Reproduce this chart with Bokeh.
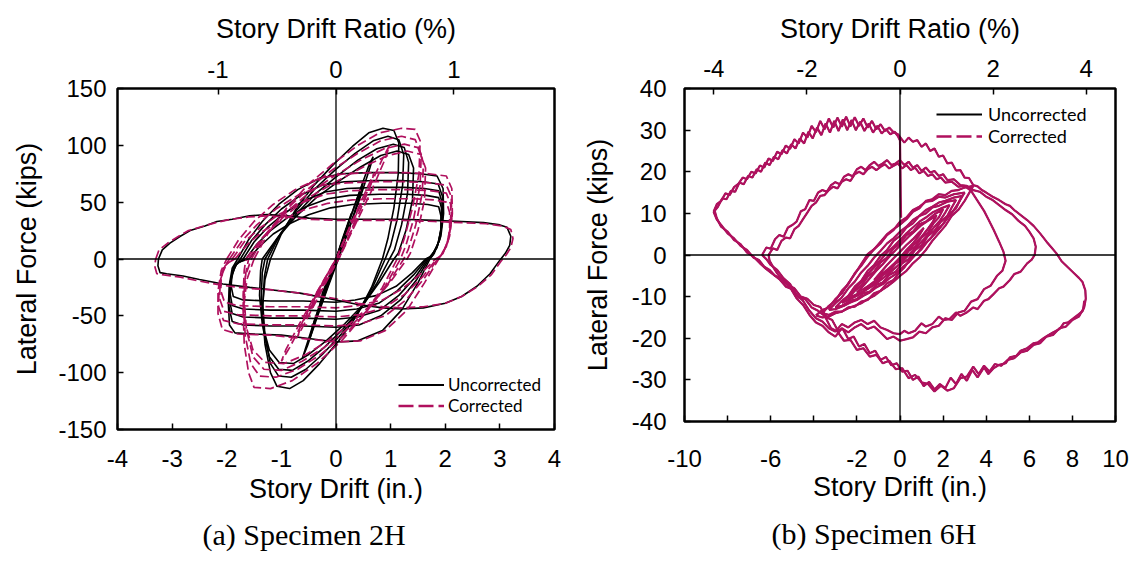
from bokeh.plotting import figure
from bokeh.models import (Range1d, LinearAxis, FixedTicker, Span, Legend,
                          LegendItem, Title)
from bokeh.layouts import row
from bokeh.embed import file_html
from bokeh.resources import INLINE

BLACK = "#000000"
MAGENTA = "#B0105E"
STORY_HEIGHT = 216.0  # in.; drift ratio (%) = drift / height * 100
NAN = float("nan")

# ---------------- tick values and labels ----------------
a_x_ticks = [-4, -3, -2, -1, 0, 1, 2, 3, 4]
a_x_labels = ["-4", "-3", "-2", "-1", "0", "1", "2", "3", "4"]
a_y_ticks = [-150, -100, -50, 0, 50, 100, 150]
a_y_labels = ["-150", "-100", "-50", "0", "50", "100", "150"]
a_pct_ticks = [-1, 0, 1]
a_pct_labels = ["-1", "0", "1"]

b_x_ticks = [-10, -8, -6, -4, -2, 0, 2, 4, 6, 8, 10]
b_x_labels = ["-10", "", "-6", "", "-2", "0", "2", "4", "6", "8", "10"]
b_y_ticks = [-40, -30, -20, -10, 0, 10, 20, 30, 40]
b_y_labels = ["-40", "-30", "-20", "-10", "0", "10", "20", "30", "40"]
b_pct_ticks = [-4, -2, 0, 2, 4]
b_pct_labels = ["-4", "-2", "0", "2", "4"]

# ---------------- Specimen 2H: (drift in., force kips) ----------------
# uncorrected
a_unc_elastic_1 = [(0, 0), (0.2, 28), (0.42, 58), (0.6, 82), (0.68, 90), (0.62, 80), (0.45, 55), (0.25, 28),
                   (0.06, 2), (-0.15, -25), (-0.35, -52), (-0.52, -76), (-0.62, -88), (-0.56, -79),
                   (-0.4, -55), (-0.2, -28), (0, 0)]
a_unc_elastic_2 = [(0, 0), (0.18, 25), (0.35, 48), (0.5, 68), (0.44, 56), (0.26, 30), (0.05, 3), (-0.18, -28),
                   (-0.36, -52), (-0.48, -70), (-0.42, -58), (-0.24, -32), (0, 0)]
a_unc_elastic_3 = [(0, 0), (0.12, 18), (0.28, 40), (0.22, 28), (0.05, 4), (-0.14, -20), (-0.3, -42),
                   (-0.25, -30), (0, 0)]
a_unc_peak_1 = [(-1.2, 0), (-1.0, 22), (-0.72, 45), (-0.4, 65), (-0.05, 83), (0.3, 99), (0.6, 111), (0.86, 115),
                (1.06, 113), (1.15, 102), (1.14, 75), (1.06, 45), (0.95, 18), (0.85, 0), (0.65, -25),
                (0.38, -50), (0.05, -72), (-0.3, -92), (-0.6, -107), (-0.85, -114), (-1.08, -112),
                (-1.2, -100), (-1.3, -75), (-1.35, -45), (-1.3, -18), (-1.2, 0)]
a_unc_peak_2 = [(-1.25, 0), (-1.02, 22), (-0.72, 43), (-0.38, 62), (0.0, 79), (0.35, 93), (0.68, 104),
                (0.95, 108), (1.15, 105), (1.24, 92), (1.22, 65), (1.12, 35), (1.0, 12), (0.9, 0),
                (0.68, -24), (0.4, -47), (0.08, -67), (-0.25, -84), (-0.55, -97), (-0.82, -104),
                (-1.05, -103), (-1.2, -92), (-1.3, -68), (-1.34, -40), (-1.31, -15), (-1.25, 0)]
a_unc_peak_3 = [(-1.3, 0), (-1.05, 20), (-0.72, 40), (-0.36, 58), (0.02, 73), (0.4, 87), (0.75, 97),
                (1.05, 101), (1.25, 98), (1.33, 85), (1.31, 58), (1.2, 30), (1.07, 8), (0.98, 0),
                (0.74, -22), (0.45, -44), (0.12, -62), (-0.22, -78), (-0.52, -90), (-0.8, -98),
                (-1.05, -97), (-1.22, -86), (-1.33, -62), (-1.37, -36), (-1.35, -12), (-1.3, 0)]
a_unc_peak_4 = [(-1.35, 0), (-1.08, 18), (-0.74, 37), (-0.36, 54), (0.04, 68), (0.45, 81), (0.82, 91),
                (1.12, 95), (1.33, 92), (1.42, 80), (1.4, 52), (1.28, 25), (1.14, 5), (1.06, 0),
                (0.8, -20), (0.5, -40), (0.16, -57), (-0.18, -72), (-0.5, -84), (-0.78, -92),
                (-1.04, -91), (-1.22, -80), (-1.35, -57), (-1.4, -32), (-1.38, -10), (-1.35, 0)]
a_unc_plateau_1 = [(-1.8, 0), (-1.6, 17), (-1.35, 33), (-1.05, 48), (-0.7, 61), (-0.3, 71), (0.1, 75),
                   (0.6, 76), (1.1, 76), (1.55, 75), (1.85, 73), (1.96, 62), (1.97, 40), (1.92, 20),
                   (1.8, 5), (1.72, 0), (1.5, -21), (1.2, -45), (0.85, -63), (0.4, -72), (0.0, -73),
                   (-0.5, -70), (-1.0, -67), (-1.5, -66), (-1.85, -65), (-1.95, -58), (-1.97, -40),
                   (-1.95, -22), (-1.9, -8), (-1.8, 0)]
a_unc_plateau_2 = [(-1.75, 0), (-1.55, 16), (-1.3, 30), (-1.0, 44), (-0.65, 56), (-0.25, 65), (0.15, 68),
                   (0.7, 69), (1.2, 69), (1.6, 68), (1.87, 66), (1.95, 55), (1.95, 35), (1.9, 17),
                   (1.78, 4), (1.7, 0), (1.48, -18), (1.18, -36), (0.82, -50), (0.42, -58), (0.0, -60),
                   (-0.6, -59), (-1.2, -59), (-1.7, -58), (-1.9, -55), (-1.96, -42), (-1.95, -24),
                   (-1.88, -8), (-1.75, 0)]
a_unc_plateau_3 = [(-1.7, 0), (-1.5, 15), (-1.25, 28), (-0.95, 40), (-0.6, 51), (-0.2, 59), (0.2, 62),
                   (0.75, 63), (1.25, 63), (1.62, 62), (1.88, 60), (1.94, 50), (1.94, 32), (1.88, 15),
                   (1.76, 3), (1.68, 0), (1.45, -16), (1.15, -32), (0.8, -45), (0.4, -51), (0.0, -53),
                   (-0.6, -52), (-1.2, -52), (-1.7, -51), (-1.9, -48), (-1.95, -36), (-1.93, -20),
                   (-1.85, -6), (-1.7, 0)]
a_unc_plateau_4 = [(-1.65, 0), (-1.45, 13), (-1.2, 25), (-0.9, 36), (-0.55, 46), (-0.15, 53), (0.25, 56),
                   (0.8, 57), (1.3, 57), (1.65, 56), (1.88, 54), (1.93, 45), (1.93, 28), (1.86, 12),
                   (1.74, 2), (1.66, 0), (1.42, -14), (1.12, -28), (0.78, -39), (0.38, -44), (0.0, -46),
                   (-0.6, -45), (-1.2, -45), (-1.7, -44), (-1.9, -41), (-1.94, -30), (-1.92, -16),
                   (-1.82, -4), (-1.65, 0)]
a_unc_plateau_5 = [(-1.6, 0), (-1.4, 11), (-1.15, 22), (-0.85, 31), (-0.5, 39), (-0.1, 45), (0.3, 48),
                   (0.85, 49), (1.35, 49), (1.68, 48), (1.88, 46), (1.92, 38), (1.92, 24), (1.85, 10),
                   (1.72, 2), (1.64, 0), (1.4, -12), (1.1, -24), (0.75, -32), (0.35, -36), (0.0, -38),
                   (-0.6, -37), (-1.2, -37), (-1.7, -36), (-1.88, -33), (-1.92, -24), (-1.9, -12),
                   (-1.8, -3), (-1.6, 0)]
a_unc_large = [(-3.25, 0), (-3.18, 8), (-3.04, 14), (-2.85, 20), (-2.67, 25), (-2.4, 29), (-2.18, 33),
               (-1.9, 35), (-1.58, 38), (-1.26, 39), (-0.9, 38), (-0.5, 36), (0.0, 35), (0.6, 35),
               (1.2, 35), (1.8, 34), (2.3, 33), (2.7, 32), (3.0, 30), (3.13, 28), (3.2, 20), (3.18, 12),
               (3.1, 5), (3.0, -1), (2.82, -13), (2.58, -24), (2.3, -33), (2.0, -39), (1.6, -43),
               (1.2, -44), (0.86, -43), (0.4, -40), (0.0, -36), (-0.66, -30), (-1.2, -27), (-1.58, -25),
               (-2.07, -22), (-2.5, -18), (-2.8, -15), (-3.1, -13), (-3.22, -12), (-3.26, -6), (-3.25, 0)]

# corrected
a_cor_elastic_1 = [(0, 0), (0.3, 32), (0.6, 62), (0.85, 88), (0.98, 100), (0.9, 88), (0.65, 60), (0.35, 30),
                   (0.05, 0), (-0.3, -28), (-0.6, -55), (-0.85, -78), (-1.0, -90), (-0.92, -80),
                   (-0.68, -58), (-0.38, -32), (0, 0)]
a_cor_elastic_2 = [(0, 0), (0.25, 28), (0.5, 55), (0.7, 76), (0.62, 63), (0.4, 38), (0.1, 5), (-0.2, -22),
                   (-0.45, -45), (-0.7, -68), (-0.62, -56), (-0.38, -33), (0, 0)]
a_cor_elastic_3 = [(0, 0), (0.18, 20), (0.4, 44), (0.32, 30), (0.08, 4), (-0.2, -20), (-0.45, -44),
                   (-0.36, -30), (0, 0)]
a_cor_peak_1 = [(-1.5, 0), (-1.25, 22), (-0.9, 45), (-0.5, 66), (-0.05, 84), (0.4, 100), (0.8, 111),
                (1.2, 115), (1.45, 114), (1.54, 104), (1.52, 75), (1.4, 45), (1.25, 18), (1.12, 0),
                (0.85, -25), (0.5, -50), (0.1, -72), (-0.35, -92), (-0.8, -107), (-1.2, -114),
                (-1.5, -113), (-1.6, -100), (-1.68, -75), (-1.7, -45), (-1.63, -18), (-1.5, 0)]
a_cor_peak_2 = [(-1.55, 0), (-1.28, 22), (-0.92, 43), (-0.5, 62), (-0.05, 79), (0.4, 93), (0.82, 104),
                (1.2, 108), (1.45, 105), (1.56, 92), (1.54, 65), (1.42, 35), (1.28, 12), (1.18, 0),
                (0.9, -24), (0.55, -47), (0.15, -67), (-0.28, -84), (-0.7, -97), (-1.1, -104),
                (-1.4, -103), (-1.56, -92), (-1.66, -68), (-1.7, -40), (-1.66, -15), (-1.55, 0)]
a_cor_peak_3 = [(-1.6, 0), (-1.32, 20), (-0.94, 40), (-0.5, 58), (-0.03, 73), (0.45, 87), (0.88, 97),
                (1.25, 101), (1.5, 98), (1.6, 85), (1.58, 58), (1.46, 30), (1.32, 8), (1.24, 0),
                (0.95, -22), (0.6, -44), (0.2, -62), (-0.22, -78), (-0.62, -90), (-1.0, -98),
                (-1.32, -97), (-1.52, -86), (-1.64, -62), (-1.68, -36), (-1.65, -12), (-1.6, 0)]
a_cor_peak_4 = [(-1.65, 0), (-1.36, 18), (-0.96, 37), (-0.5, 54), (0.0, 68), (0.5, 81), (0.95, 91),
                (1.3, 95), (1.55, 92), (1.64, 80), (1.62, 52), (1.5, 25), (1.36, 5), (1.3, 0),
                (1.0, -20), (0.65, -40), (0.25, -57), (-0.15, -72), (-0.55, -84), (-0.95, -92),
                (-1.3, -91), (-1.52, -80), (-1.66, -57), (-1.7, -32), (-1.68, -10), (-1.65, 0)]
a_cor_plateau_1 = [(-2.0, 0), (-1.78, 17), (-1.5, 33), (-1.15, 48), (-0.75, 61), (-0.3, 71), (0.15, 75),
                   (0.7, 76), (1.25, 76), (1.7, 75), (2.02, 73), (2.12, 62), (2.13, 40), (2.08, 20),
                   (1.96, 5), (1.88, 0), (1.62, -21), (1.3, -45), (0.9, -63), (0.45, -72), (0.0, -73),
                   (-0.6, -70), (-1.2, -67), (-1.8, -66), (-2.08, -62), (-2.16, -48), (-2.16, -28),
                   (-2.1, -10), (-2.0, 0)]
a_cor_plateau_2 = [(-1.95, 0), (-1.72, 16), (-1.45, 30), (-1.1, 44), (-0.7, 56), (-0.25, 65), (0.2, 67),
                   (0.75, 68), (1.3, 68), (1.72, 67), (2.02, 65), (2.11, 55), (2.12, 35), (2.06, 17),
                   (1.94, 4), (1.86, 0), (1.6, -18), (1.28, -36), (0.9, -50), (0.45, -57), (0.0, -59),
                   (-0.6, -58), (-1.2, -58), (-1.8, -57), (-2.06, -54), (-2.15, -42), (-2.14, -24),
                   (-2.06, -8), (-1.95, 0)]
a_cor_plateau_3 = [(-1.9, 0), (-1.68, 15), (-1.4, 27), (-1.05, 39), (-0.65, 49), (-0.2, 57), (0.25, 60),
                   (0.8, 61), (1.35, 61), (1.75, 60), (2.02, 58), (2.1, 48), (2.1, 30), (2.04, 14),
                   (1.92, 3), (1.84, 0), (1.58, -16), (1.26, -31), (0.88, -43), (0.43, -49), (0.0, -51),
                   (-0.6, -50), (-1.2, -50), (-1.8, -49), (-2.05, -46), (-2.13, -35), (-2.12, -19),
                   (-2.03, -6), (-1.9, 0)]
a_cor_plateau_4 = [(-1.85, 0), (-1.62, 13), (-1.35, 24), (-1.0, 34), (-0.6, 43), (-0.15, 49), (0.3, 52),
                   (0.85, 53), (1.4, 53), (1.78, 52), (2.02, 50), (2.08, 41), (2.08, 25), (2.02, 11),
                   (1.9, 2), (1.82, 0), (1.55, -13), (1.22, -26), (0.85, -36), (0.4, -41), (0.0, -43),
                   (-0.6, -42), (-1.2, -42), (-1.8, -41), (-2.04, -38), (-2.11, -28), (-2.1, -15),
                   (-2.0, -4), (-1.85, 0)]
a_cor_large = [(-3.3, 0), (-3.24, 8), (-3.08, 14), (-2.88, 20), (-2.7, 25), (-2.42, 29), (-2.2, 32),
               (-1.92, 35), (-1.6, 37), (-1.28, 38), (-0.92, 37), (-0.5, 35), (0.0, 34), (0.6, 34),
               (1.2, 34), (1.8, 33), (2.3, 32), (2.75, 31), (3.05, 29), (3.2, 26), (3.24, 18), (3.2, 10),
               (3.12, 4), (3.02, -2), (2.84, -14), (2.6, -24), (2.3, -33), (2.0, -39), (1.6, -42),
               (1.2, -43), (0.86, -42), (0.4, -39), (0.0, -35), (-0.66, -30), (-1.2, -27), (-1.6, -26),
               (-2.1, -23), (-2.55, -19), (-2.85, -16), (-3.15, -14), (-3.28, -13), (-3.32, -6), (-3.3, 0)]

a_unc_loops = [a_unc_elastic_1, a_unc_elastic_2, a_unc_elastic_3, a_unc_peak_1, a_unc_peak_2,
               a_unc_peak_3, a_unc_peak_4, a_unc_plateau_1, a_unc_plateau_2, a_unc_plateau_3,
               a_unc_plateau_4, a_unc_plateau_5, a_unc_large]
a_cor_loops = [a_cor_elastic_1, a_cor_elastic_2, a_cor_elastic_3, a_cor_peak_1, a_cor_peak_2,
               a_cor_peak_3, a_cor_peak_4, a_cor_plateau_1, a_cor_plateau_2, a_cor_plateau_3,
               a_cor_plateau_4, a_cor_large]

# ---------------- Specimen 6H: (drift in., force kips) ----------------
b_outer_1 = [(-8.65, 10.4), (-8.5, 12.2), (-8.3, 13.0), (-8.1, 14.8), (-7.9, 14.4), (-7.7, 16.3),
             (-7.5, 17.1), (-7.3, 18.6), (-7.1, 18.2), (-6.9, 20.0), (-6.7, 19.6), (-6.5, 21.5),
             (-6.3, 21.0), (-6.1, 23.2), (-5.9, 22.6), (-5.7, 24.8), (-5.5, 24.2), (-5.3, 26.3),
             (-5.1, 25.5), (-4.9, 27.8), (-4.7, 26.8), (-4.5, 29.4), (-4.3, 28.2), (-4.1, 31.0),
             (-3.9, 29.5), (-3.7, 32.2), (-3.5, 30.2), (-3.3, 32.8), (-3.1, 30.6), (-2.9, 33.0),
             (-2.7, 30.8), (-2.5, 33.2), (-2.3, 30.9), (-2.1, 33.1), (-1.9, 31.0), (-1.7, 32.8),
             (-1.5, 30.6), (-1.3, 32.2), (-1.1, 30.2), (-0.9, 31.4), (-0.7, 29.8), (-0.5, 30.6),
             (-0.3, 29.5), (-0.1, 29.0), (0.2, 27.0), (0.4, 28.2), (0.6, 27.2), (0.8, 27.6),
             (1.0, 26.0), (1.2, 26.8), (1.4, 25.0), (1.6, 25.6), (1.8, 23.6), (2.0, 23.9), (2.2, 22.0),
             (2.4, 22.2), (2.6, 20.3), (2.8, 20.4), (3.0, 18.6), (3.2, 18.5), (3.4, 16.8), (3.6, 16.5),
             (3.8, 15.6), (4.0, 15.0), (4.3, 14.0), (4.6, 13.2), (4.9, 12.2), (5.1, 11.8), (5.3, 10.8),
             (5.6, 9.6), (5.9, 8.4), (6.2, 7.0), (6.5, 5.2), (6.8, 3.2), (7.0, 2.0), (7.26, 0.4),
             (7.5, -1.5), (7.8, -3.0), (8.1, -4.5), (8.3, -5.5), (8.47, -6.5), (8.6, -8.5),
             (8.62, -10.5), (8.55, -12.5), (8.47, -13.5), (8.3, -14.2), (8.1, -15.0), (7.8, -16.2),
             (7.6, -16.4), (7.4, -17.8), (7.1, -18.6), (6.9, -19.2), (6.66, -20.0), (6.4, -21.0),
             (6.2, -21.2), (5.9, -22.4), (5.6, -23.0), (5.4, -24.2), (5.1, -24.6), (4.9, -26.0),
             (4.6, -26.4), (4.34, -27.2), (4.1, -28.6), (3.9, -27.0), (3.6, -29.4), (3.35, -27.6),
             (3.1, -30.2), (2.85, -28.6), (2.6, -31.0), (2.35, -29.5), (2.1, -32.0), (1.85, -31.0),
             (1.6, -32.3), (1.35, -30.5), (1.1, -31.5), (0.85, -29.2), (0.6, -30.0), (0.35, -27.8),
             (0.1, -28.0), (-0.15, -26.0), (-0.4, -26.5), (-0.65, -24.5), (-0.9, -25.2), (-1.15, -23.0),
             (-1.4, -23.6), (-1.65, -21.4), (-1.9, -22.0), (-2.15, -19.6), (-2.4, -20.2), (-2.65, -17.8),
             (-2.9, -18.0), (-3.15, -15.6), (-3.4, -15.0), (-3.7, -12.5), (-4.0, -12.0), (-4.3, -10.5),
             (-4.6, -10.0), (-4.9, -8.0), (-5.2, -7.2), (-5.5, -5.6), (-5.8, -5.0), (-6.05, -3.6),
             (-6.3, -2.8), (-6.55, -1.2), (-6.8, -0.6), (-7.1, 1.2), (-7.4, 2.2), (-7.7, 4.0),
             (-8.0, 5.2), (-8.3, 7.2), (-8.5, 8.5), (-8.65, 10.4)]
b_outer_2 = [(8.55, -11.0), (8.5, -13.0), (8.3, -14.8), (8.0, -15.6), (7.7, -17.2), (7.4, -17.6),
             (7.1, -19.2), (6.8, -19.6), (6.5, -21.2), (6.2, -21.6), (5.9, -23.0), (5.6, -23.4),
             (5.3, -24.8), (5.0, -25.2), (4.7, -26.6), (4.4, -26.2), (4.15, -28.0), (3.9, -26.6),
             (3.65, -28.6), (3.4, -26.8), (3.1, -29.2), (2.8, -29.6), (2.5, -32.0), (2.2, -32.6),
             (1.9, -31.4), (1.6, -32.8), (1.3, -31.0), (1.0, -30.6), (0.7, -28.8), (0.4, -29.6),
             (0.1, -27.2), (-0.2, -27.4), (-0.5, -25.4), (-0.8, -26.0), (-1.1, -24.0), (-1.4, -24.4),
             (-1.7, -22.4), (-2.0, -22.8), (-2.3, -20.4), (-2.6, -20.6), (-2.9, -18.4), (-3.2, -17.6),
             (-3.5, -14.6), (-3.8, -13.4), (-4.1, -12.6), (-4.4, -10.6), (-4.7, -10.2), (-5.0, -8.2),
             (-5.3, -7.6), (-5.6, -5.8), (-5.9, -4.6), (-6.2, -3.4), (-6.5, -2.0), (-6.8, -0.4),
             (-7.1, 0.6), (-7.4, 2.6), (-7.7, 3.6), (-8.0, 5.6), (-8.3, 6.8), (-8.5, 8.8), (-8.6, 10.6),
             (-8.45, 11.6), (-8.25, 13.6), (-8.05, 13.4), (-7.85, 15.4), (-7.65, 15.2), (-7.45, 17.4),
             (-7.25, 17.0), (-7.05, 19.0), (-6.85, 18.6), (-6.65, 20.6), (-6.45, 20.0), (-6.25, 22.2),
             (-6.05, 21.6), (-5.85, 23.6), (-5.65, 23.0), (-5.45, 25.2), (-5.25, 24.4), (-5.05, 26.6),
             (-4.85, 25.6), (-4.65, 28.0), (-4.45, 26.8), (-4.25, 29.6), (-4.05, 28.0), (-3.85, 30.6),
             (-3.65, 28.8), (-3.45, 31.6), (-3.25, 29.4), (-3.05, 32.2), (-2.85, 29.8), (-2.65, 32.6),
             (-2.45, 30.0), (-2.25, 32.4), (-2.05, 30.0), (-1.85, 32.0), (-1.65, 29.8), (-1.45, 31.6),
             (-1.25, 29.4), (-1.05, 31.0), (-0.85, 29.2), (-0.65, 30.2), (-0.45, 29.0), (-0.25, 29.6),
             (-0.1, 28.6), (0.0, 27.5), (0.02, 20.0), (0.03, 14.0), (0.05, 9.0)]
b_inner_1 = [(-6.4, 0.0), (-6.2, 1.8), (-6.0, 1.5), (-5.8, 3.8), (-5.6, 4.8), (-5.4, 4.4), (-5.2, 6.6),
             (-5.0, 7.2), (-4.8, 8.0), (-4.6, 10.5), (-4.4, 11.0), (-4.2, 13.2), (-4.0, 13.0),
             (-3.8, 15.0), (-3.6, 15.6), (-3.4, 15.2), (-3.2, 16.8), (-3.0, 17.5), (-2.8, 17.0),
             (-2.6, 18.8), (-2.4, 19.4), (-2.2, 18.9), (-2.0, 20.6), (-1.8, 21.2), (-1.6, 20.4),
             (-1.4, 21.6), (-1.2, 22.4), (-1.0, 21.4), (-0.8, 22.0), (-0.6, 22.8), (-0.4, 21.6),
             (-0.2, 22.0), (0.0, 22.8), (0.2, 21.6), (0.4, 22.4), (0.6, 21.0), (0.8, 21.6), (1.0, 20.2),
             (1.2, 21.0), (1.4, 19.8), (1.6, 20.2), (1.8, 19.0), (2.0, 19.4), (2.2, 18.0), (2.5, 18.2),
             (2.8, 16.8), (3.1, 16.6), (3.4, 15.6), (3.7, 15.2), (4.0, 14.0), (4.3, 13.2), (4.6, 12.0),
             (4.9, 10.8), (5.2, 9.8), (5.5, 8.2), (5.8, 7.0), (6.0, 5.6), (6.2, 4.0), (6.3, 2.0),
             (6.25, 0.0), (6.1, -1.2), (5.9, -2.0), (5.6, -4.0), (5.3, -4.6), (5.1, -6.0), (4.8, -7.6),
             (4.6, -8.0), (4.34, -9.4), (4.1, -10.6), (3.9, -11.0), (3.6, -13.0), (3.4, -12.6),
             (3.1, -13.8), (2.8, -14.6), (2.6, -13.8), (2.3, -15.4), (2.0, -15.6), (1.8, -14.8),
             (1.5, -16.6), (1.2, -17.2), (1.0, -16.4), (0.7, -18.2), (0.4, -18.8), (0.2, -18.2),
             (0.0, -19.0), (-0.3, -18.8), (-0.6, -18.0), (-0.9, -17.4), (-1.2, -15.8), (-1.5, -16.6),
             (-1.8, -15.6), (-2.1, -16.2), (-2.4, -17.4), (-2.7, -16.6), (-3.0, -18.4), (-3.3, -17.6),
             (-3.6, -16.0), (-3.9, -15.2), (-4.2, -13.4), (-4.5, -11.0), (-4.8, -9.6), (-5.1, -7.0),
             (-5.4, -5.6), (-5.7, -3.6), (-6.0, -2.4), (-6.2, -1.0), (-6.4, 0.0)]
b_inner_2 = [(-6.1, 0.0), (-5.9, 1.6), (-5.7, 1.2), (-5.5, 3.4), (-5.3, 4.2), (-5.1, 4.0), (-4.9, 6.2),
             (-4.7, 7.0), (-4.5, 8.6), (-4.3, 10.2), (-4.1, 11.8), (-3.9, 12.6), (-3.7, 14.2),
             (-3.5, 14.4), (-3.3, 15.6), (-3.1, 16.4), (-2.9, 16.0), (-2.7, 17.6), (-2.5, 18.2),
             (-2.3, 17.8), (-2.1, 19.4), (-1.9, 20.0), (-1.7, 19.4), (-1.5, 20.6), (-1.3, 21.2),
             (-1.1, 20.4), (-0.9, 21.2), (-0.7, 21.8), (-0.5, 20.8), (-0.3, 21.4), (-0.1, 22.0),
             (0.1, 20.8), (0.3, 21.6), (0.5, 20.4), (0.7, 21.0), (0.9, 19.6), (1.1, 20.2), (1.3, 19.0),
             (1.5, 19.4), (1.7, 18.2), (1.9, 18.6), (2.1, 17.4), (2.4, 17.6), (2.7, 16.4), (3.0, 16.6),
             (3.3, 15.4), (3.6, 13.0), (3.9, 10.6), (4.1, 8.6), (4.35, 6.0), (4.6, 3.2), (4.8, 0.8),
             (4.9, -1.4), (4.75, -3.8), (4.5, -5.0), (4.2, -7.4), (3.9, -8.2), (3.6, -10.6),
             (3.3, -11.2), (3.0, -13.4), (2.7, -13.8), (2.4, -15.6), (2.1, -15.2), (1.8, -17.0),
             (1.5, -17.4), (1.2, -18.8), (0.9, -18.4), (0.6, -19.8), (0.3, -20.2), (0.0, -20.6),
             (-0.3, -19.6), (-0.6, -20.2), (-0.9, -18.6), (-1.2, -17.2), (-1.5, -17.8), (-1.8, -16.6),
             (-2.1, -17.4), (-2.4, -18.6), (-2.7, -17.6), (-3.0, -19.6), (-3.3, -18.6), (-3.6, -17.0),
             (-3.9, -16.2), (-4.2, -14.4), (-4.5, -12.0), (-4.8, -10.4), (-5.1, -7.8), (-5.4, -6.4),
             (-5.7, -4.4), (-5.9, -2.8), (-6.05, -1.4), (-6.1, 0.0)]
b_cycle_1 = [(-3.9, -14.5), (-3.6, -13.2), (-3.3, -12.6), (-3.0, -10.6), (-2.7, -9.2), (-2.4, -6.8),
             (-2.1, -4.6), (-1.8, -2.2), (-1.5, 0.2), (-1.2, 1.4), (-0.9, 3.2), (-0.6, 5.0), (-0.3, 6.2),
             (0.0, 7.3), (0.3, 8.6), (0.6, 10.4), (0.9, 11.2), (1.2, 13.0), (1.5, 13.4), (1.8, 14.6),
             (2.1, 14.4), (2.4, 15.4), (2.7, 15.6), (3.0, 16.2), (3.4, 16.6), (3.2, 14.8), (3.0, 13.0),
             (2.7, 10.8), (2.4, 9.4), (2.1, 7.0), (1.8, 5.2), (1.5, 3.4), (1.2, 1.2), (0.9, -0.6),
             (0.6, -2.0), (0.3, -3.8), (0.0, -5.0), (-0.3, -6.4), (-0.6, -7.6), (-0.9, -8.6),
             (-1.2, -9.8), (-1.5, -10.6), (-1.8, -11.6), (-2.1, -12.2), (-2.4, -12.8), (-2.7, -13.6),
             (-3.0, -14.0), (-3.3, -14.8), (-3.6, -15.0), (-3.9, -14.5)]
b_cycle_2 = [(-3.3, -13.2), (-3.0, -11.6), (-2.7, -10.2), (-2.4, -8.0), (-2.1, -6.4), (-1.8, -4.2),
             (-1.5, -2.6), (-1.2, -0.6), (-0.9, 1.0), (-0.6, 2.8), (-0.3, 4.0), (0.0, 5.6), (0.3, 6.8),
             (0.6, 8.4), (0.9, 9.4), (1.2, 10.8), (1.5, 11.6), (1.8, 12.6), (2.1, 13.0), (2.5, 13.8),
             (2.9, 14.2), (2.7, 12.4), (2.45, 10.4), (2.2, 8.8), (1.9, 6.8), (1.6, 5.0), (1.3, 3.4),
             (1.0, 1.4), (0.7, 0.0), (0.4, -1.8), (0.1, -3.0), (-0.2, -4.6), (-0.5, -5.6), (-0.8, -7.0),
             (-1.1, -7.8), (-1.4, -9.0), (-1.7, -9.8), (-2.0, -10.8), (-2.3, -11.4), (-2.6, -12.2),
             (-3.0, -13.0), (-3.3, -13.2)]
b_cycle_3 = [(-2.7, -11.5), (-2.4, -10.0), (-2.1, -8.2), (-1.8, -6.6), (-1.5, -4.6), (-1.2, -3.0),
             (-0.9, -1.2), (-0.6, 0.6), (-0.3, 2.0), (0.0, 3.6), (0.3, 5.2), (0.6, 6.6), (0.9, 8.0),
             (1.2, 9.0), (1.5, 10.2), (1.9, 11.2), (2.3, 12.0), (2.1, 10.2), (1.85, 8.2), (1.6, 6.8),
             (1.3, 4.8), (1.0, 3.2), (0.7, 1.6), (0.4, 0.0), (0.1, -1.6), (-0.2, -3.0), (-0.5, -4.4),
             (-0.8, -5.6), (-1.1, -6.8), (-1.4, -7.8), (-1.7, -8.8), (-2.0, -9.8), (-2.4, -10.8),
             (-2.7, -11.5)]
b_cycle_4 = [(-2.0, -9.0), (-1.7, -7.4), (-1.4, -5.6), (-1.1, -3.8), (-0.8, -2.2), (-0.5, -0.4),
             (-0.2, 1.2), (0.1, 2.8), (0.4, 4.4), (0.7, 5.8), (1.0, 7.2), (1.35, 8.4), (1.7, 9.5),
             (1.5, 7.8), (1.25, 6.0), (1.0, 4.4), (0.7, 2.8), (0.4, 1.2), (0.1, -0.4), (-0.2, -2.0),
             (-0.5, -3.4), (-0.8, -4.8), (-1.1, -6.0), (-1.4, -7.2), (-1.7, -8.2), (-2.0, -9.0)]
b_cycle_5 = [(-1.2, -6.0), (-0.9, -4.2), (-0.6, -2.4), (-0.3, -0.8), (0.0, 0.8), (0.3, 2.4), (0.6, 3.8),
             (0.85, 5.2), (1.1, 6.5), (0.9, 4.8), (0.6, 2.8), (0.3, 1.2), (0.0, -0.6), (-0.3, -2.2),
             (-0.6, -3.6), (-0.9, -4.8), (-1.2, -6.0)]
b_cycle_6 = [(-3.6, -14.0), (-3.3, -12.2), (-3.0, -11.0), (-2.7, -8.6), (-2.4, -7.0), (-2.1, -4.4),
             (-1.8, -2.6), (-1.5, -0.4), (-1.2, 1.4), (-0.9, 2.8), (-0.6, 4.8), (-0.3, 6.0), (0.0, 8.0),
             (0.3, 9.0), (0.6, 10.8), (0.9, 11.6), (1.2, 12.8), (1.5, 13.0), (1.8, 14.0), (2.1, 13.8),
             (2.5, 14.6), (3.0, 15.0), (2.8, 13.4), (2.6, 11.2), (2.3, 9.8), (2.0, 7.4), (1.7, 6.0),
             (1.4, 3.8), (1.1, 2.6), (0.8, 0.4), (0.5, -0.8), (0.2, -3.0), (0.0, -4.0), (-0.3, -6.0),
             (-0.6, -6.8), (-0.9, -8.6), (-1.2, -9.2), (-1.5, -10.8), (-1.8, -11.2), (-2.1, -12.4),
             (-2.4, -12.6), (-2.7, -13.6), (-3.0, -13.6), (-3.3, -14.4), (-3.6, -14.0)]
b_cycle_7 = [(-3.0, -12.6), (-2.7, -11.0), (-2.4, -9.8), (-2.1, -7.6), (-1.8, -6.2), (-1.5, -3.8),
             (-1.2, -2.4), (-0.9, -0.2), (-0.6, 1.2), (-0.3, 3.4), (0.0, 4.6), (0.3, 6.6), (0.6, 7.6),
             (0.9, 9.4), (1.2, 10.0), (1.5, 11.4), (1.8, 11.8), (2.2, 12.8), (2.6, 13.2), (2.4, 11.4),
             (2.2, 9.4), (1.9, 8.0), (1.6, 5.8), (1.3, 4.6), (1.0, 2.4), (0.7, 1.2), (0.4, -1.0),
             (0.1, -2.0), (-0.2, -4.0), (-0.5, -4.8), (-0.8, -6.6), (-1.1, -7.2), (-1.4, -8.8),
             (-1.7, -9.2), (-2.0, -10.6), (-2.3, -11.0), (-2.7, -12.2), (-3.0, -12.6)]
b_cycle_8 = [(-2.4, -10.4), (-2.1, -8.6), (-1.8, -7.4), (-1.5, -5.2), (-1.2, -4.0), (-0.9, -1.8),
             (-0.6, -0.6), (-0.3, 1.6), (0.0, 2.8), (0.3, 4.8), (0.6, 5.6), (0.9, 7.4), (1.2, 8.0),
             (1.6, 9.8), (2.0, 11.0), (1.8, 9.0), (1.55, 7.6), (1.3, 5.4), (1.0, 4.2), (0.7, 2.0),
             (0.4, 1.0), (0.1, -1.2), (-0.2, -2.0), (-0.5, -4.0), (-0.8, -4.8), (-1.1, -6.6),
             (-1.4, -7.2), (-1.7, -8.8), (-2.0, -9.4), (-2.4, -10.4)]

# the two records of Specimen 6H coincide within the plotted resolution
b_unc_loops = [b_outer_1, b_outer_2, b_inner_1, b_inner_2, b_cycle_1, b_cycle_2, b_cycle_3,
               b_cycle_4, b_cycle_5, b_cycle_6, b_cycle_7, b_cycle_8]
b_cor_loops = [b_outer_1, b_outer_2, b_inner_1, b_inner_2, b_cycle_1, b_cycle_2, b_cycle_3,
               b_cycle_4, b_cycle_5, b_cycle_6, b_cycle_7, b_cycle_8]


def split_xy(loops):
    xs = [[pt[0] for pt in loop] for loop in loops]
    ys = [[pt[1] for pt in loop] for loop in loops]
    return xs, ys


def style_axis(ax, ticks, labels, label_standoff, title_standoff):
    ax.ticker = FixedTicker(ticks=ticks)
    ax.major_label_overrides = dict(zip(ticks, labels))
    ax.major_tick_in = 6
    ax.major_tick_out = 0
    ax.minor_tick_in = 0
    ax.minor_tick_out = 0
    ax.major_tick_line_color = "black"
    ax.major_tick_line_width = 1.5
    ax.axis_line_color = None
    ax.major_label_text_font = "Liberation Sans"
    ax.major_label_text_font_size = "24px"
    ax.major_label_text_color = "black"
    ax.major_label_standoff = label_standoff
    ax.axis_label_text_font = "Liberation Sans"
    ax.axis_label_text_font_size = "27px"
    ax.axis_label_text_font_style = "normal"
    ax.axis_label_text_color = "black"
    ax.axis_label_standoff = title_standoff


def build_panel(x_lim, y_lim, x_ticks, x_labels, y_ticks, y_labels, pct_ticks, pct_labels,
                frame, border, std, unc_loops, cor_loops, unc_style, cor_style,
                legend_at, legend_font, legend_row, legend_standoff, caption, caption_offset,
                caption_standoff):
    p = figure(title=None, x_range=Range1d(*x_lim), y_range=Range1d(*y_lim),
               frame_width=frame[0], frame_height=frame[1],
               min_border_left=border[0], min_border_right=border[1],
               min_border_top=border[2], min_border_bottom=border[3],
               output_backend="svg", toolbar_location=None,
               background_fill_color="white", border_fill_color="white")
    p.xgrid.visible = False
    p.ygrid.visible = False
    p.outline_line_color = "black"
    p.outline_line_width = 2.5

    bottom = p.below[0]
    left = p.left[0]
    bottom.axis_label = "Story Drift (in.)"
    left.axis_label = "Lateral Force (kips)"

    p.extra_x_ranges = {"ratio": Range1d(x_lim[0] / STORY_HEIGHT * 100, x_lim[1] / STORY_HEIGHT * 100)}
    top = LinearAxis(x_range_name="ratio", axis_label="Story Drift Ratio (%)")
    p.add_layout(top, "above")

    style_axis(bottom, x_ticks, x_labels, std["bottom"][0], std["bottom"][1])
    style_axis(top, pct_ticks, pct_labels, std["top"][0], std["top"][1])
    style_axis(left, y_ticks, y_labels, std["left"][0], std["left"][1])

    p.add_layout(Span(location=0, dimension="height", line_color="black", line_width=1.3))
    p.add_layout(Span(location=0, dimension="width", line_color="black", line_width=1.3))

    uxs, uys = split_xy(unc_loops)
    cxs, cys = split_xy(cor_loops)
    p.multi_line(uxs, uys, line_color=BLACK, **unc_style)
    p.multi_line(cxs, cys, line_color=MAGENTA, **cor_style)

    # legend keys (placeholder renderers that draw nothing in the frame)
    key_unc = p.line(x=[NAN], y=[NAN], line_color=BLACK, line_width=2.2)
    key_cor = p.line(x=[NAN], y=[NAN], line_color=MAGENTA, line_width=2.6, line_dash="15 5")
    legend = Legend(items=[LegendItem(label="Uncorrected", renderers=[key_unc]),
                           LegendItem(label="Corrected", renderers=[key_cor])],
                    location=legend_at, orientation="vertical",
                    glyph_width=46, glyph_height=legend_row, label_height=legend_row,
                    label_standoff=legend_standoff, spacing=0, padding=0, margin=0,
                    border_line_color=None, background_fill_alpha=0,
                    label_text_font="Lato", label_text_font_size=legend_font,
                    label_text_color="black")
    p.add_layout(legend)

    cap = Title(text=caption, align="left", offset=caption_offset, standoff=caption_standoff,
                text_font="Liberation Serif", text_font_size="30px", text_font_style="normal",
                text_color="black")
    p.add_layout(cap, "below")
    return p


panel_a = build_panel(
    x_lim=(-4, 4), y_lim=(-150, 150),
    x_ticks=a_x_ticks, x_labels=a_x_labels, y_ticks=a_y_ticks, y_labels=a_y_labels,
    pct_ticks=a_pct_ticks, pct_labels=a_pct_labels,
    frame=(437, 341), border=(117, 16, 88, 132),
    std={"bottom": (20, 4), "top": (11, 14), "left": (11, 13)},
    unc_loops=a_unc_loops, cor_loops=a_cor_loops,
    unc_style=dict(line_width=1.6),
    cor_style=dict(line_width=1.7, line_dash="9 4"),
    legend_at=(281, 13), legend_font="17px", legend_row=19, legend_standoff=4,
    caption="(a)  Specimen 2H", caption_offset=85, caption_standoff=18)

panel_b = build_panel(
    x_lim=(-10, 10), y_lim=(-40, 40),
    x_ticks=b_x_ticks, x_labels=b_x_labels, y_ticks=b_y_ticks, y_labels=b_y_labels,
    pct_ticks=b_pct_ticks, pct_labels=b_pct_labels,
    frame=(431, 333), border=(114, 21, 87, 141),
    std={"bottom": (28, 2), "top": (12, 13), "left": (18, 16)},
    unc_loops=b_unc_loops, cor_loops=b_cor_loops,
    unc_style=dict(line_width=1.4),
    cor_style=dict(line_width=2.2),
    legend_at=(252, 274), legend_font="18px", legend_row=22, legend_standoff=6,
    caption="(b)  Specimen 6H", caption_offset=87, caption_standoff=21)

layout = row(panel_a, panel_b, spacing=0)

with open("out.html", "w") as fh:
    fh.write(file_html(layout, INLINE))
